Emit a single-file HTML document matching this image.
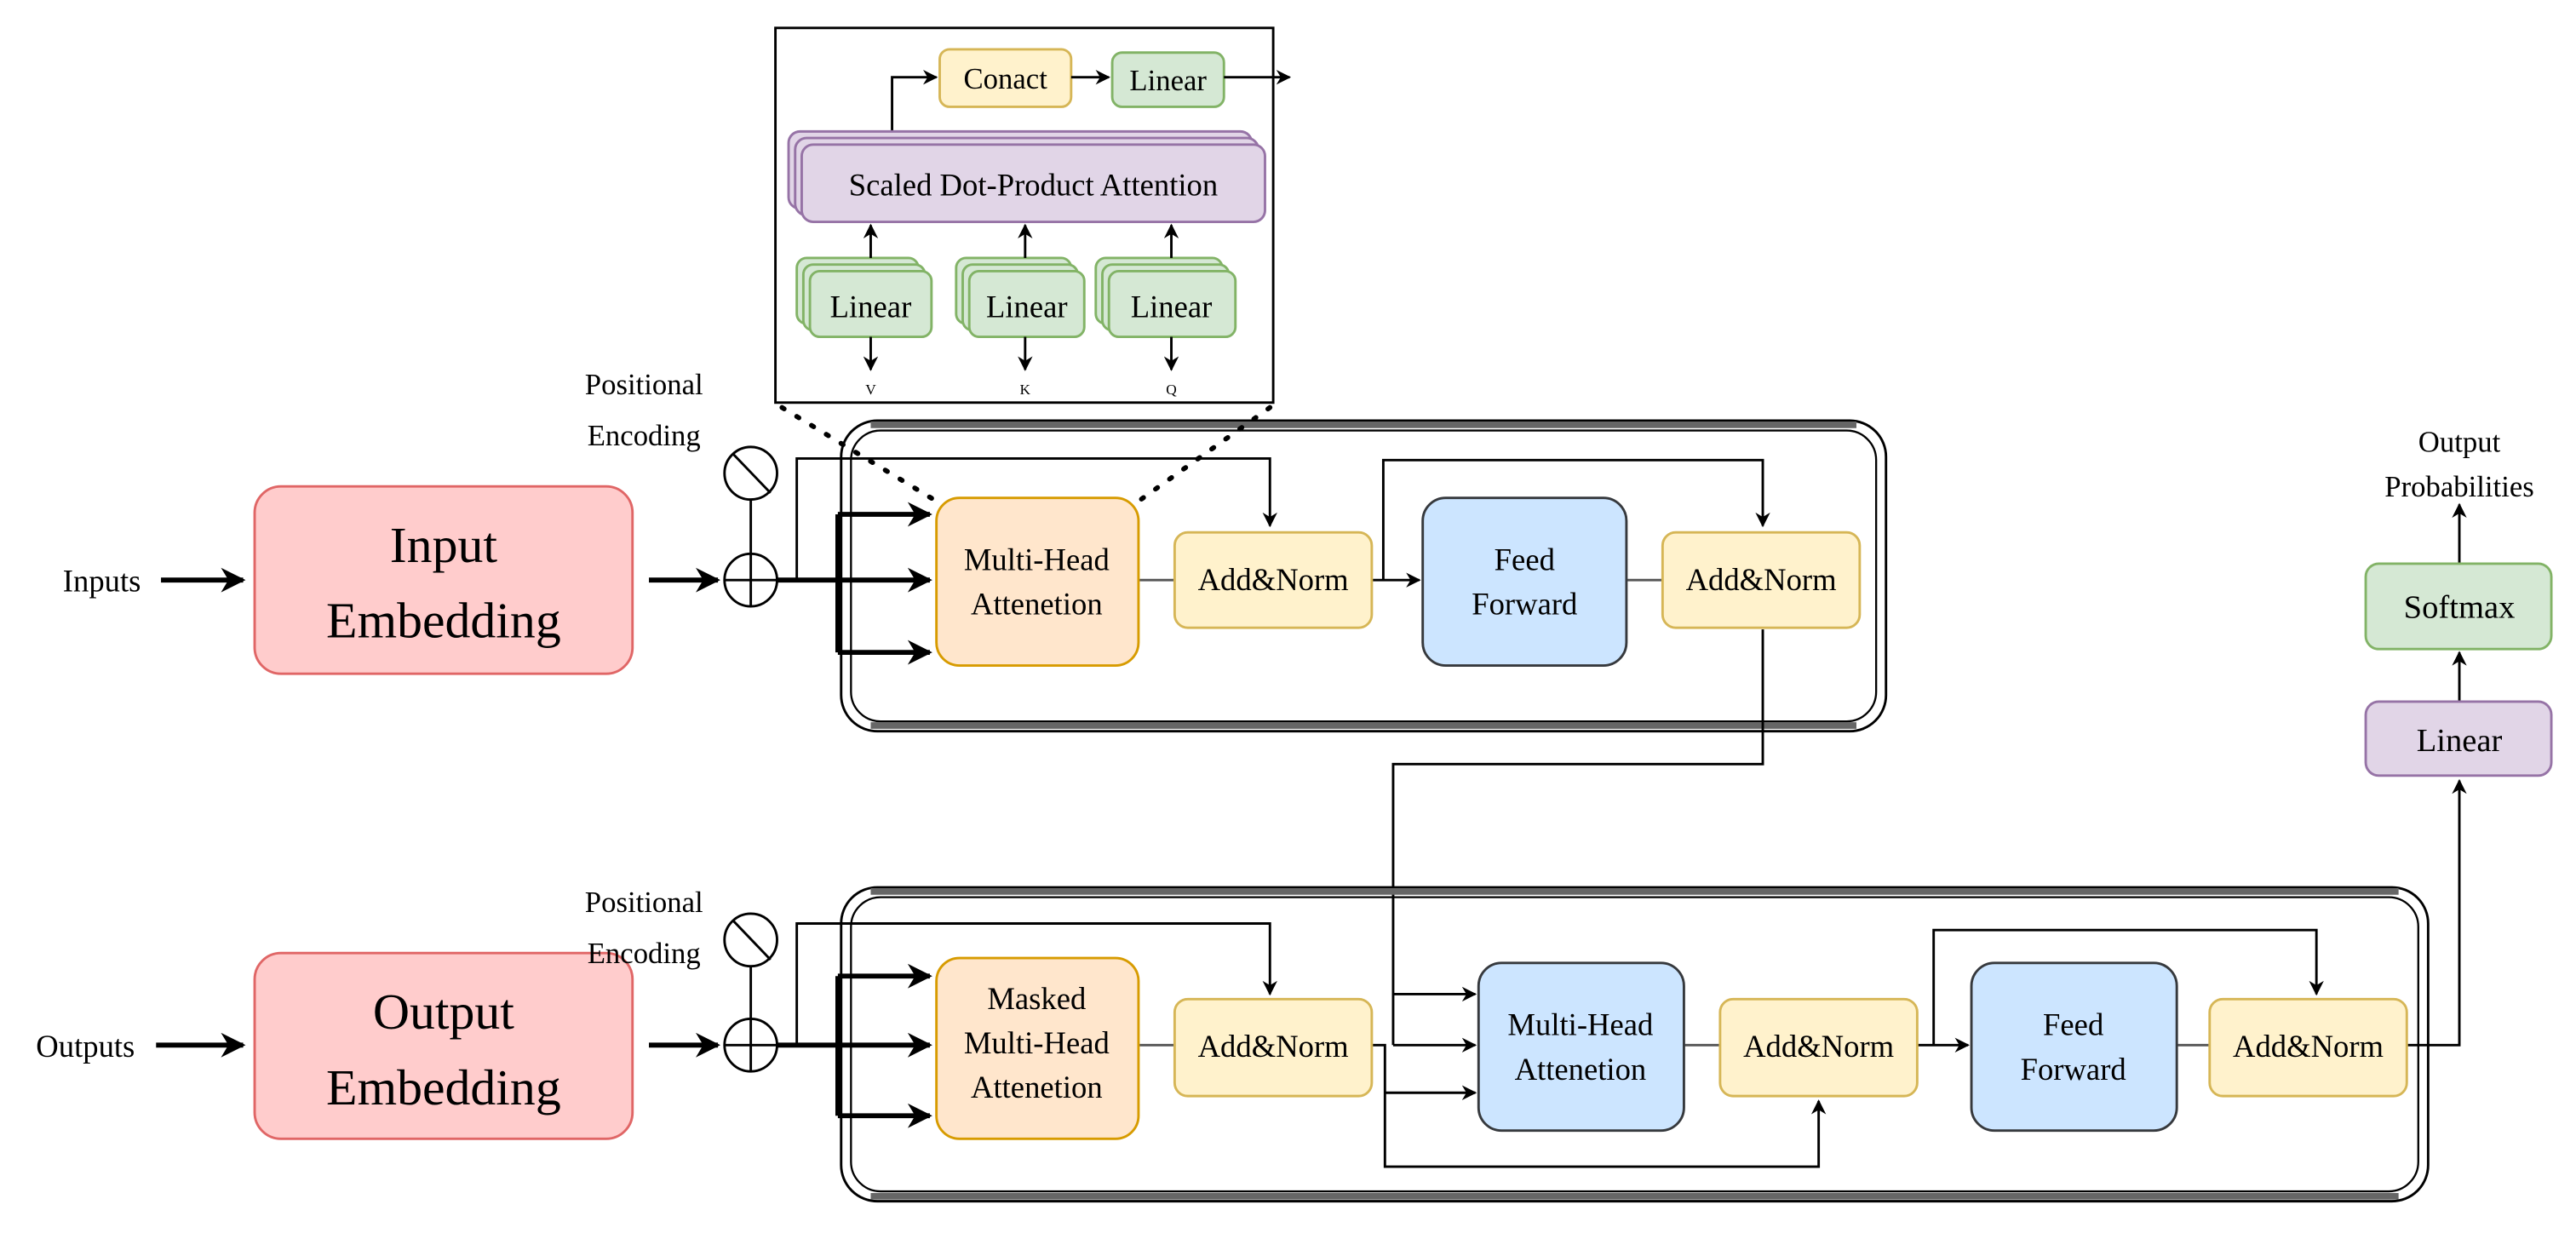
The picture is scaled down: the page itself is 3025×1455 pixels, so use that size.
<!DOCTYPE html>
<html><head><meta charset="utf-8"><style>
html,body{margin:0;padding:0;background:#fff;}
svg{display:block;}
</style></head><body>
<svg width="3025" height="1455" viewBox="0 0 1568 754" preserveAspectRatio="none" xmlns="http://www.w3.org/2000/svg" font-family="'Liberation Serif', 'DejaVu Serif', serif">
<defs>
<marker id="a" viewBox="0 0 10 10" refX="9" refY="5" markerWidth="5" markerHeight="5" orient="auto-start-reverse"><path d="M0,0 L10,5 L0,10 L3,5 z" fill="#000"/></marker>
<marker id="b" viewBox="0 0 10 10" refX="9" refY="5" markerWidth="6" markerHeight="6" orient="auto-start-reverse"><path d="M0,0 L10,5 L0,10 L3,5 z" fill="#000"/></marker>
</defs>

<!-- inset box -->
<rect x="472" y="17" width="303" height="228" fill="#fff" stroke="#000" stroke-width="1.5"/>
<rect x="572" y="30" width="80" height="35" rx="6" fill="#fff2cc" stroke="#d6b656" stroke-width="1.5"/>
<text x="612" y="54" font-size="18" text-anchor="middle">Conact</text>
<rect x="677" y="32" width="68" height="33" rx="6" fill="#d5e8d4" stroke="#82b366" stroke-width="1.5"/>
<text x="711" y="55" font-size="18" text-anchor="middle">Linear</text>
<line x1="652" y1="47" x2="675" y2="47" stroke="#000" stroke-width="1.5" marker-end="url(#b)"/>
<line x1="745" y1="47" x2="785" y2="47" stroke="#000" stroke-width="1.5" marker-end="url(#b)"/>
<polyline points="543,80 543,47 570,47" fill="none" stroke="#000" stroke-width="1.5" marker-end="url(#b)"/>
<rect x="480" y="80" width="282" height="47" rx="7" fill="#e1d5e7" stroke="#9673a6" stroke-width="1.5"/>
<rect x="484" y="84" width="282" height="47" rx="7" fill="#e1d5e7" stroke="#9673a6" stroke-width="1.5"/>
<rect x="488" y="88" width="282" height="47" rx="7" fill="#e1d5e7" stroke="#9673a6" stroke-width="1.5"/>
<text x="629" y="119" font-size="19" text-anchor="middle">Scaled Dot-Product Attention</text>
<g stroke="#82b366" stroke-width="1.5" fill="#d5e8d4">
<rect x="485" y="157" width="74" height="40" rx="6"/><rect x="489" y="161" width="74" height="40" rx="6"/><rect x="493" y="165" width="74" height="40" rx="6"/>
<rect x="582" y="157" width="70" height="40" rx="6"/><rect x="586" y="161" width="70" height="40" rx="6"/><rect x="590" y="165" width="70" height="40" rx="6"/>
<rect x="667" y="157" width="77" height="40" rx="6"/><rect x="671" y="161" width="77" height="40" rx="6"/><rect x="675" y="165" width="77" height="40" rx="6"/>
</g>
<text x="530" y="193" font-size="19" text-anchor="middle">Linear</text>
<text x="625" y="193" font-size="19" text-anchor="middle">Linear</text>
<text x="713" y="193" font-size="19" text-anchor="middle">Linear</text>
<g stroke="#000" stroke-width="1.5">
<line x1="530" y1="157" x2="530" y2="137" marker-end="url(#b)"/>
<line x1="624" y1="157" x2="624" y2="137" marker-end="url(#b)"/>
<line x1="713" y1="157" x2="713" y2="137" marker-end="url(#b)"/>
<line x1="530" y1="205" x2="530" y2="225" marker-end="url(#b)"/>
<line x1="624" y1="205" x2="624" y2="225" marker-end="url(#b)"/>
<line x1="713" y1="205" x2="713" y2="225" marker-end="url(#b)"/>
</g>
<text x="530" y="240" font-size="9" text-anchor="middle">V</text>
<text x="624" y="240" font-size="9" text-anchor="middle">K</text>
<text x="713" y="240" font-size="9" text-anchor="middle">Q</text>

<!-- encoder outer -->
<rect x="512" y="256" width="636" height="189" rx="22" fill="none" stroke="#000" stroke-width="1.5"/>
<rect x="518" y="262" width="624" height="177" rx="18" fill="none" stroke="#000" stroke-width="1.2"/>
<line x1="530" y1="258.5" x2="1130" y2="258.5" stroke="#666" stroke-width="4"/>
<line x1="530" y1="441.5" x2="1130" y2="441.5" stroke="#666" stroke-width="4"/>

<!-- dotted -->
<line x1="476" y1="248" x2="570" y2="305" stroke="#000" stroke-width="3" stroke-dasharray="1.5 9" stroke-linecap="round"/>
<line x1="773" y1="248" x2="693" y2="305" stroke="#000" stroke-width="3" stroke-dasharray="1.5 9" stroke-linecap="round"/>

<!-- encoder left -->
<text x="62" y="360" font-size="19" text-anchor="middle">Inputs</text>
<line x1="98" y1="353" x2="148" y2="353" stroke="#000" stroke-width="3" marker-end="url(#a)"/>
<rect x="155" y="296" width="230" height="114" rx="16" fill="#ffcccc" stroke="#e06666" stroke-width="1.5"/>
<text x="270" y="342" font-size="31" text-anchor="middle">Input</text>
<text x="270" y="388" font-size="31" text-anchor="middle">Embedding</text>
<line x1="395" y1="353" x2="437" y2="353" stroke="#000" stroke-width="3" marker-end="url(#a)"/>
<text x="392" y="240" font-size="18" text-anchor="middle">Positional</text>
<text x="392" y="271" font-size="18" text-anchor="middle">Encoding</text>
<g stroke="#000" stroke-width="1.5" fill="none">
<circle cx="457" cy="288" r="16"/><line x1="446" y1="276" x2="469" y2="300"/>
<line x1="457" y1="304" x2="457" y2="337"/>
<circle cx="457" cy="353" r="16"/><line x1="441" y1="353" x2="473" y2="353"/><line x1="457" y1="337" x2="457" y2="369"/>
</g>
<g stroke="#000" fill="none">
<line x1="473" y1="353" x2="566" y2="353" stroke-width="3" marker-end="url(#a)"/>
<line x1="510" y1="313" x2="510" y2="397" stroke-width="3"/>
<line x1="510" y1="313" x2="566" y2="313" stroke-width="3" marker-end="url(#a)"/>
<line x1="510" y1="397" x2="566" y2="397" stroke-width="3" marker-end="url(#a)"/>
<polyline points="485,353 485,279 773,279 773,320" stroke-width="1.5" marker-end="url(#b)"/>
<line x1="693" y1="353" x2="715" y2="353" stroke="#555" stroke-width="1.5"/>
<line x1="835" y1="353" x2="864" y2="353" stroke-width="1.5" marker-end="url(#b)"/>
<polyline points="842,353 842,280 1073,280 1073,320" stroke-width="1.5" marker-end="url(#b)"/>
<line x1="990" y1="353" x2="1012" y2="353" stroke="#555" stroke-width="1.5"/>
<polyline points="1073,383 1073,465 848,465 848,636" stroke-width="1.5"/>
<line x1="848" y1="605" x2="898" y2="605" stroke-width="1.5" marker-end="url(#b)"/>
<line x1="848" y1="636" x2="898" y2="636" stroke-width="1.5" marker-end="url(#b)"/>
</g>
<rect x="570" y="303" width="123" height="102" rx="14" fill="#ffe6cc" stroke="#d79b00" stroke-width="1.5"/>
<text x="631" y="347" font-size="19" text-anchor="middle">Multi-Head</text>
<text x="631" y="374" font-size="19" text-anchor="middle">Attenetion</text>
<rect x="715" y="324" width="120" height="58" rx="8" fill="#fff2cc" stroke="#d6b656" stroke-width="1.5"/>
<text x="775" y="359" font-size="19" text-anchor="middle">Add&amp;Norm</text>
<rect x="866" y="303" width="124" height="102" rx="14" fill="#cce5ff" stroke="#36393d" stroke-width="1.5"/>
<text x="928" y="347" font-size="19" text-anchor="middle">Feed</text>
<text x="928" y="374" font-size="19" text-anchor="middle">Forward</text>
<rect x="1012" y="324" width="120" height="58" rx="8" fill="#fff2cc" stroke="#d6b656" stroke-width="1.5"/>
<text x="1072" y="359" font-size="19" text-anchor="middle">Add&amp;Norm</text>

<!-- decoder outer -->
<rect x="512" y="540" width="966" height="191" rx="22" fill="none" stroke="#000" stroke-width="1.5"/>
<rect x="518" y="546" width="954" height="179" rx="18" fill="none" stroke="#000" stroke-width="1.2"/>
<line x1="530" y1="542.5" x2="1460" y2="542.5" stroke="#666" stroke-width="4"/>
<line x1="530" y1="728" x2="1460" y2="728" stroke="#666" stroke-width="4"/>

<text x="52" y="643" font-size="19" text-anchor="middle">Outputs</text>
<line x1="95" y1="636" x2="148" y2="636" stroke="#000" stroke-width="3" marker-end="url(#a)"/>
<rect x="155" y="580" width="230" height="113" rx="16" fill="#ffcccc" stroke="#e06666" stroke-width="1.5"/>
<text x="270" y="626" font-size="31" text-anchor="middle">Output</text>
<text x="270" y="672" font-size="31" text-anchor="middle">Embedding</text>
<line x1="395" y1="636" x2="437" y2="636" stroke="#000" stroke-width="3" marker-end="url(#a)"/>
<text x="392" y="555" font-size="18" text-anchor="middle">Positional</text>
<text x="392" y="586" font-size="18" text-anchor="middle">Encoding</text>
<g stroke="#000" stroke-width="1.5" fill="none">
<circle cx="457" cy="572" r="16"/><line x1="446" y1="560" x2="469" y2="584"/>
<line x1="457" y1="588" x2="457" y2="620"/>
<circle cx="457" cy="636" r="16"/><line x1="441" y1="636" x2="473" y2="636"/><line x1="457" y1="620" x2="457" y2="652"/>
</g>
<g stroke="#000" fill="none">
<line x1="473" y1="636" x2="566" y2="636" stroke-width="3" marker-end="url(#a)"/>
<line x1="510" y1="594" x2="510" y2="679" stroke-width="3"/>
<line x1="510" y1="594" x2="566" y2="594" stroke-width="3" marker-end="url(#a)"/>
<line x1="510" y1="679" x2="566" y2="679" stroke-width="3" marker-end="url(#a)"/>
<polyline points="485,636 485,562 773,562 773,605" stroke-width="1.5" marker-end="url(#b)"/>
<line x1="693" y1="636" x2="715" y2="636" stroke="#555" stroke-width="1.5"/>
<polyline points="835,636 843,636 843,710 1107,710 1107,670" stroke-width="1.5" marker-end="url(#b)"/>
<line x1="843" y1="665" x2="898" y2="665" stroke-width="1.5" marker-end="url(#b)"/>
<line x1="1025" y1="636" x2="1047" y2="636" stroke="#555" stroke-width="1.5"/>
<line x1="1167" y1="636" x2="1198" y2="636" stroke-width="1.5" marker-end="url(#b)"/>
<polyline points="1177,636 1177,566 1410,566 1410,605" stroke-width="1.5" marker-end="url(#b)"/>
<line x1="1325" y1="636" x2="1345" y2="636" stroke="#555" stroke-width="1.5"/>
<polyline points="1465,636 1497,636 1497,475" stroke-width="1.5" marker-end="url(#b)"/>
<line x1="1497" y1="427" x2="1497" y2="397" stroke-width="1.5" marker-end="url(#b)"/>
<line x1="1497" y1="343" x2="1497" y2="307" stroke-width="1.5" marker-end="url(#b)"/>
</g>
<rect x="570" y="583" width="123" height="110" rx="14" fill="#ffe6cc" stroke="#d79b00" stroke-width="1.5"/>
<text x="631" y="614" font-size="19" text-anchor="middle">Masked</text>
<text x="631" y="641" font-size="19" text-anchor="middle">Multi-Head</text>
<text x="631" y="668" font-size="19" text-anchor="middle">Attenetion</text>
<rect x="715" y="608" width="120" height="59" rx="8" fill="#fff2cc" stroke="#d6b656" stroke-width="1.5"/>
<text x="775" y="643" font-size="19" text-anchor="middle">Add&amp;Norm</text>
<rect x="900" y="586" width="125" height="102" rx="14" fill="#cce5ff" stroke="#36393d" stroke-width="1.5"/>
<text x="962" y="630" font-size="19" text-anchor="middle">Multi-Head</text>
<text x="962" y="657" font-size="19" text-anchor="middle">Attenetion</text>
<rect x="1047" y="608" width="120" height="59" rx="8" fill="#fff2cc" stroke="#d6b656" stroke-width="1.5"/>
<text x="1107" y="643" font-size="19" text-anchor="middle">Add&amp;Norm</text>
<rect x="1200" y="586" width="125" height="102" rx="14" fill="#cce5ff" stroke="#36393d" stroke-width="1.5"/>
<text x="1262" y="630" font-size="19" text-anchor="middle">Feed</text>
<text x="1262" y="657" font-size="19" text-anchor="middle">Forward</text>
<rect x="1345" y="608" width="120" height="59" rx="8" fill="#fff2cc" stroke="#d6b656" stroke-width="1.5"/>
<text x="1405" y="643" font-size="19" text-anchor="middle">Add&amp;Norm</text>

<!-- output head -->
<rect x="1440" y="427" width="113" height="45" rx="8" fill="#e1d5e7" stroke="#9673a6" stroke-width="1.5"/>
<text x="1497" y="457" font-size="20" text-anchor="middle">Linear</text>
<rect x="1440" y="343" width="113" height="52" rx="8" fill="#d5e8d4" stroke="#82b366" stroke-width="1.5"/>
<text x="1497" y="376" font-size="20" text-anchor="middle">Softmax</text>
<text x="1497" y="275" font-size="18" text-anchor="middle">Output</text>
<text x="1497" y="302" font-size="18" text-anchor="middle">Probabilities</text>
</svg>
</body></html>
